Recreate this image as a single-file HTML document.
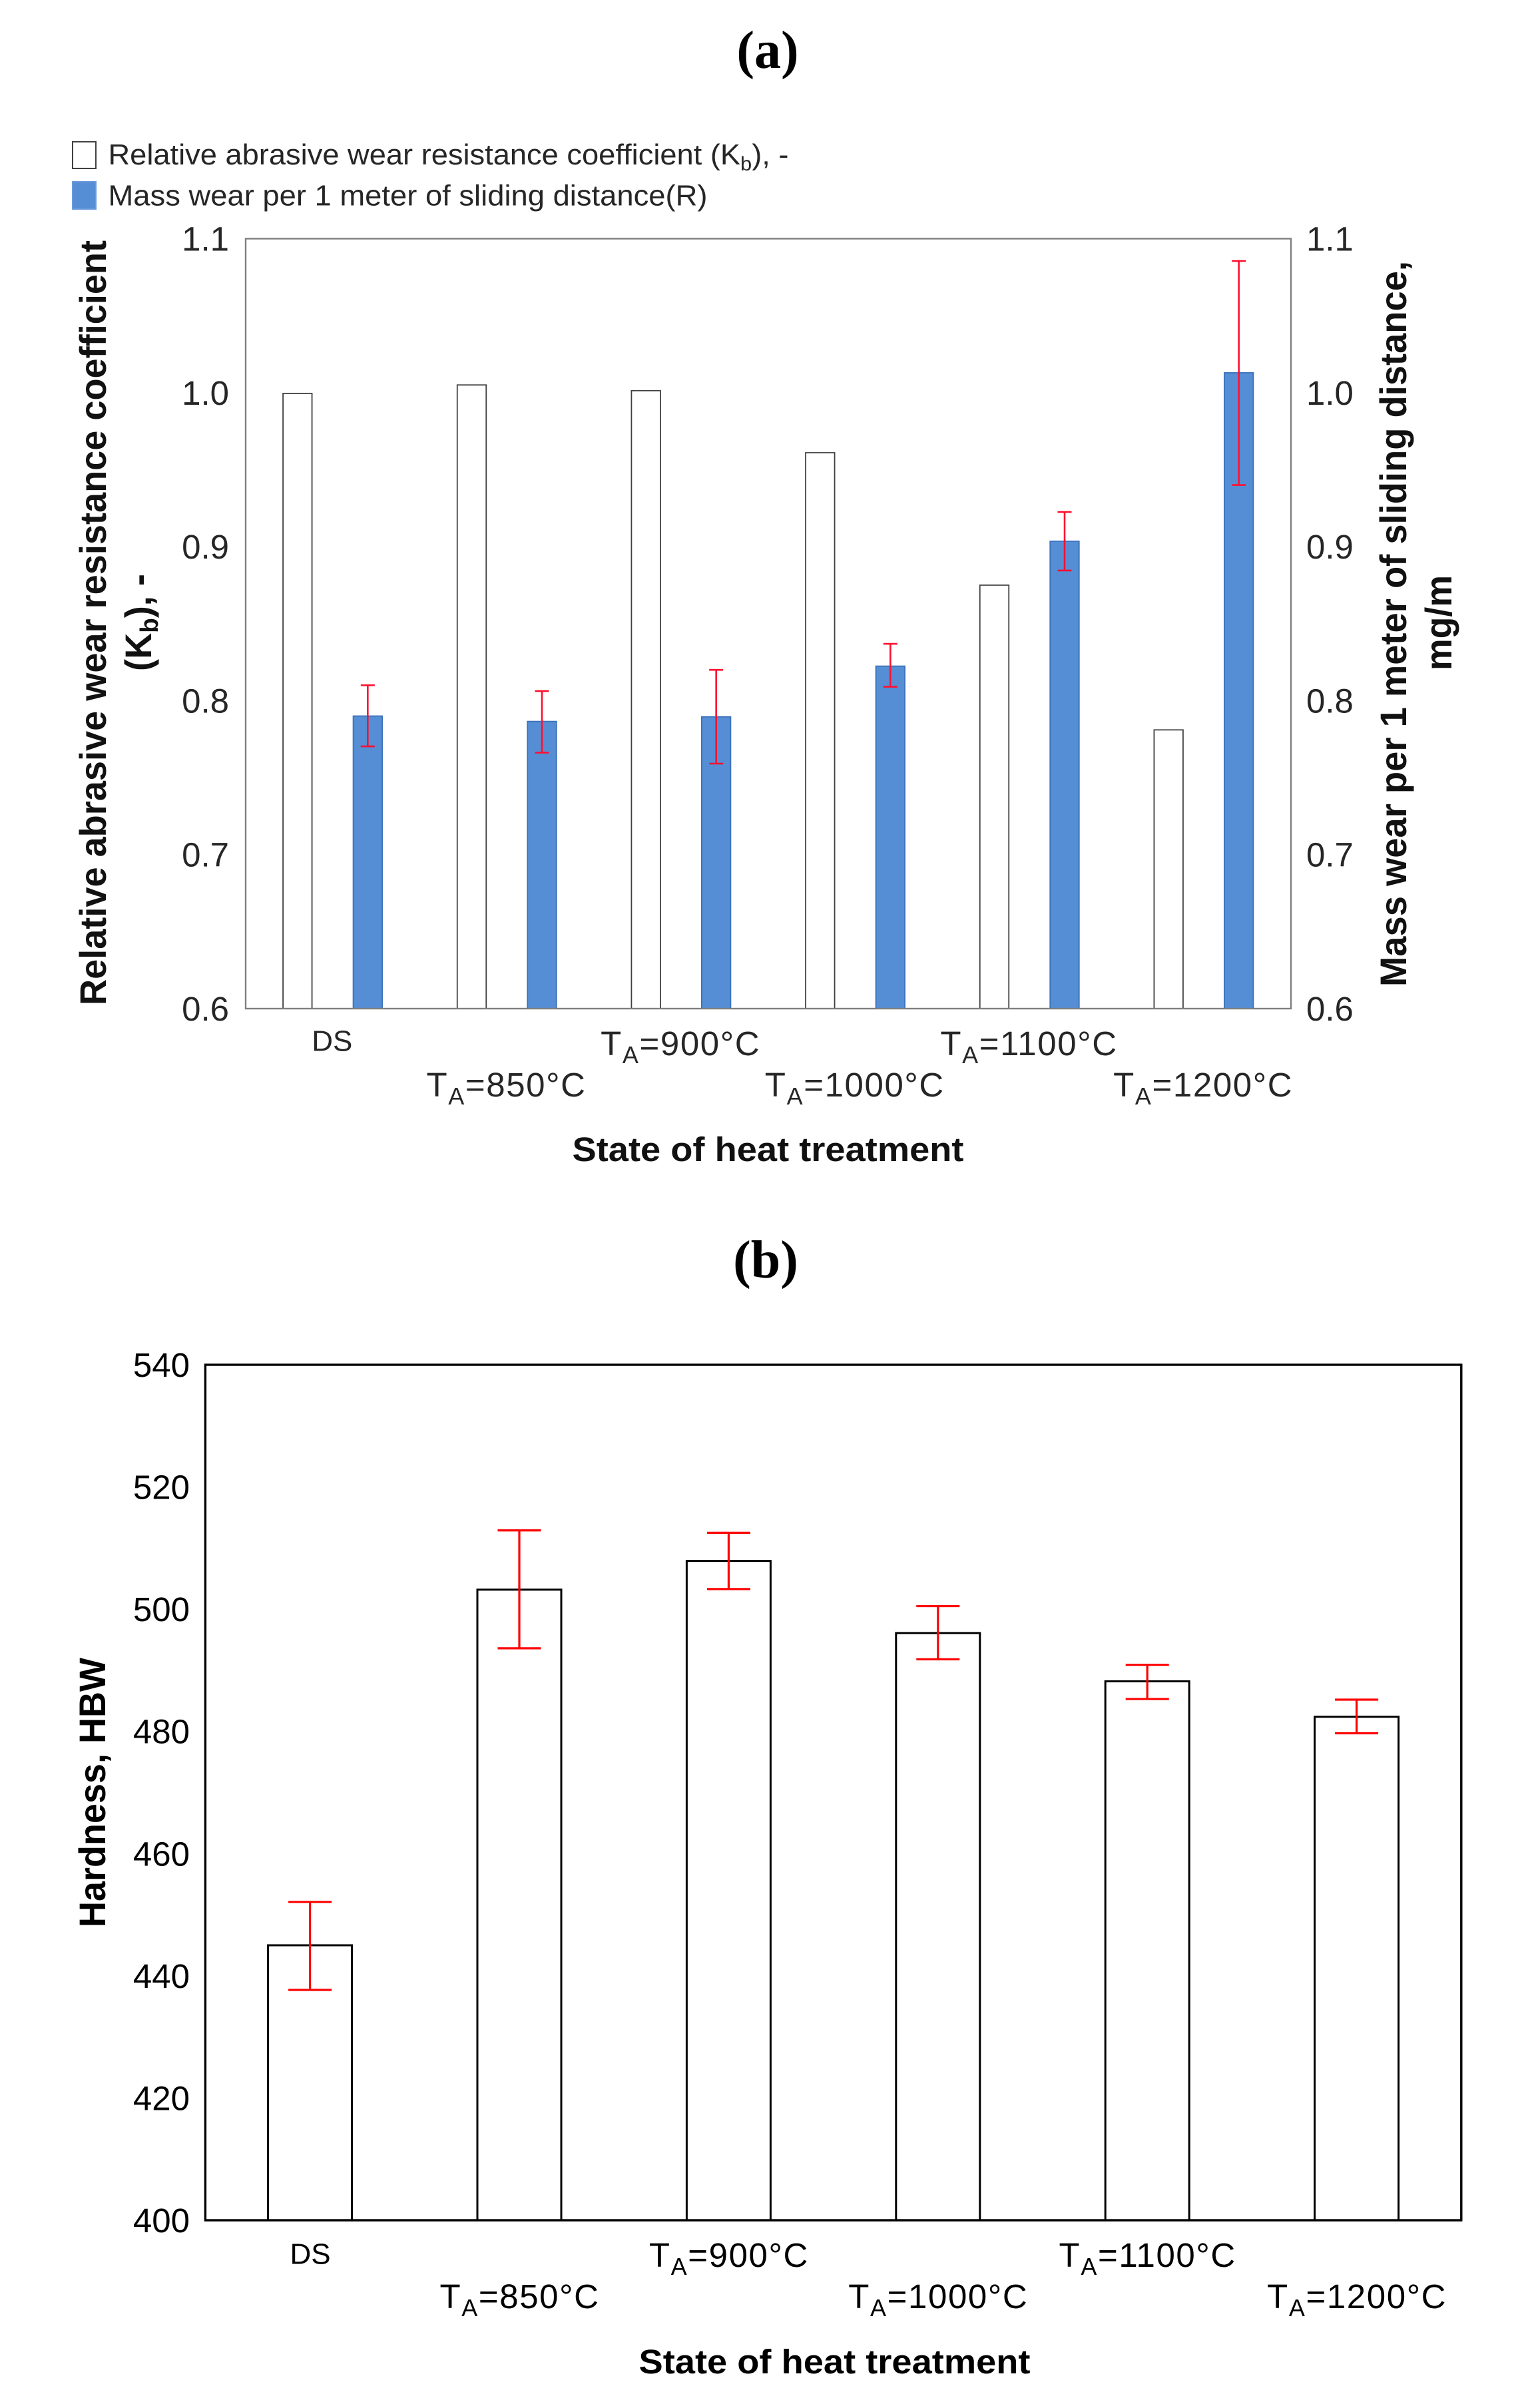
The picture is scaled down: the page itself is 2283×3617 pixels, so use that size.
<!DOCTYPE html>
<html lang="en">
<head>
<meta charset="utf-8">
<title>Wear resistance and hardness vs. heat treatment</title>
<style>
html,body{margin:0;padding:0;background:#fff;}
svg{display:block;}
text{font-family:"Liberation Sans",Arial,sans-serif;}
.serif{font-family:"Liberation Serif","Times New Roman",serif;font-weight:bold;}
</style>
</head>
<body>
<svg id="figure" xmlns="http://www.w3.org/2000/svg" width="2283" height="3617" viewBox="0 0 2283 3617">
<rect x="0" y="0" width="2283" height="3617" fill="#ffffff"/>
<text class="serif" x="1153" y="102" font-size="80" text-anchor="middle" fill="#000">(a)</text>
<text class="serif" x="1150" y="1919" font-size="80" text-anchor="middle" fill="#000">(b)</text>

<g>
<rect x="109" y="213" width="35" height="40" fill="#fff" stroke="#404040" stroke-width="2"/>
<text x="162.5" y="247" font-size="44" fill="#262626" textLength="1022" lengthAdjust="spacingAndGlyphs">Relative abrasive wear resistance coefficient (K<tspan font-size="30" dy="9">b</tspan><tspan dy="-9">), -</tspan></text>
<rect x="109" y="273" width="35" height="41" fill="#558ed5" stroke="#6a9bdc" stroke-width="2"/>
<text x="162.5" y="308.5" font-size="44" fill="#262626" textLength="900" lengthAdjust="spacingAndGlyphs">Mass wear per 1 meter of sliding distance(R)</text>
</g>

<g id="chart-a"></g>
<g id="chart-b"></g>

<g font-weight="bold" fill="#111">
<text transform="translate(159,1510) rotate(-90)" font-size="56" textLength="1149" lengthAdjust="spacingAndGlyphs">Relative abrasive wear resistance coefficient</text>
<text transform="translate(227,1008) rotate(-90)" font-size="56" textLength="146" lengthAdjust="spacingAndGlyphs">(K<tspan font-size="38" dy="10">b</tspan><tspan dy="-10">), -</tspan></text>
<text transform="translate(2112,1482) rotate(-90)" font-size="56" textLength="1090" lengthAdjust="spacingAndGlyphs">Mass wear per 1 meter of sliding distance,</text>
<text transform="translate(2180,1007) rotate(-90)" font-size="56" textLength="143" lengthAdjust="spacingAndGlyphs">mg/m</text>
<text x="859.5" y="1744" font-size="51" textLength="588" lengthAdjust="spacingAndGlyphs">State of heat treatment</text>
</g>
<g font-weight="bold" fill="#000">
<text transform="translate(158,2895) rotate(-90)" font-size="56" textLength="405" lengthAdjust="spacingAndGlyphs">Hardness, HBW</text>
<text x="959.5" y="3565" font-size="51" textLength="588" lengthAdjust="spacingAndGlyphs">State of heat treatment</text>
</g>
</svg>

<script>
// ---- Shared categories ----
const categories = ['DS', 'TA=850°C', 'TA=900°C', 'TA=1000°C', 'TA=1100°C', 'TA=1200°C'];

// ---- Chart (a) data ----
const wearTicks = ['0.6', '0.7', '0.8', '0.9', '1.0', '1.1'];
const kbValues = [0.9995, 1.005, 1.0013, 0.961, 0.875, 0.781];
const massValues = [0.790, 0.7865, 0.7895, 0.8224, 0.9035, 1.0129];
const massUpper = [0.8100, 0.8062, 0.8200, 0.8369, 0.9225, 1.0855];
const massLower = [0.7703, 0.7662, 0.7591, 0.8090, 0.8845, 0.9400];

// ---- Chart (b) data ----
const hardnessTicks = ['400', '420', '440', '460', '480', '500', '520', '540'];
const hardnessValues = [445.0, 503.2, 507.9, 496.1, 488.2, 482.4];
const hardnessUpper = [452.1, 512.9, 512.5, 500.5, 490.9, 485.2];
const hardnessLower = [437.7, 493.6, 503.3, 491.8, 485.3, 479.7];

const NS = 'http://www.w3.org/2000/svg';
function make(parent, tag, attrs, content) {
  const el = document.createElementNS(NS, tag);
  for (const k in attrs) el.setAttribute(k, attrs[k]);
  if (content !== undefined) el.textContent = content;
  parent.appendChild(el);
  return el;
}

// Category label with optional subscript "A" in "TA=..."
function drawCategoryLabel(parent, label, cx, baseline, dsBaseline, fill) {
  if (label.indexOf('TA') !== 0) {
    return make(parent, 'text', {x: cx, y: dsBaseline, 'font-size': 44, 'text-anchor': 'middle', fill: fill}, label);
  }
  const t = make(parent, 'text', {x: cx, y: baseline, 'font-size': 51, 'text-anchor': 'middle', fill: fill, 'letter-spacing': 1.6});
  make(t, 'tspan', {}, 'T');
  make(t, 'tspan', {'font-size': 36, dy: 12}, 'A');
  make(t, 'tspan', {dy: -12}, label.slice(2));
  return t;
}

function errorBar(parent, x, yUp, yLow, cap, width, color) {
  make(parent, 'line', {x1: x, x2: x, y1: yUp, y2: yLow, stroke: color, 'stroke-width': width});
  make(parent, 'line', {x1: x - cap / 2, x2: x + cap / 2, y1: yUp, y2: yUp, stroke: color, 'stroke-width': width});
  make(parent, 'line', {x1: x - cap / 2, x2: x + cap / 2, y1: yLow, y2: yLow, stroke: color, 'stroke-width': width});
}

// ---- Draw chart (a) ----
(function () {
  const root = document.getElementById('chart-a');
  const L = 369, R = 1939, T = 358.5, B = 1515;
  const vMin = 0.6, vMax = 1.1;
  const y = v => B - (v - vMin) / (vMax - vMin) * (B - T);
  const band = (R - L) / categories.length;
  const xc = i => L + band * (i + 0.5);
  const barW = 43.5, offL = 53, offR = 52.5;
  const ink = '#262626';

  make(root, 'rect', {x: L, y: T, width: R - L, height: B - T, fill: '#fff'});

  kbValues.forEach((v, i) => {
    const bar = make(root, 'rect', {x: xc(i) - offL - barW / 2, y: y(v), width: barW, height: B - y(v), fill: '#fff', stroke: '#404040', 'stroke-width': 1.8});
    
    
  });
  massValues.forEach((v, i) => {
    const bar = make(root, 'rect', {x: xc(i) + offR - barW / 2, y: y(v), width: barW, height: B - y(v), fill: '#558ed5', stroke: '#3b71bb', 'stroke-width': 1.8});
    
    
  });
  massValues.forEach((v, i) => {
    const g = make(root, 'g', {});
    
    
    errorBar(g, xc(i) + offR, y(massUpper[i]), y(massLower[i]), 21, 2.6, '#ff1030');
  });

  const frame = make(root, 'rect', {x: L, y: T, width: R - L, height: B - T, fill: 'none', stroke: '#7f7f7f', 'stroke-width': 2.4});
  
  

  wearTicks.forEach(label => {
    const v = parseFloat(label);
    const left = make(root, 'text', {x: 344, y: y(v) + 18, 'font-size': 51, 'text-anchor': 'end', fill: ink}, label);
    
    
    const right = make(root, 'text', {x: 1962, y: y(v) + 18, 'font-size': 51, fill: ink}, label);
    
    
  });

  categories.forEach((label, i) => {
    const t = drawCategoryLabel(root, label, xc(i) - 1, i % 2 ? 1647 : 1585, 1578.5, ink);
    
    
  });
})();

// ---- Draw chart (b) ----
(function () {
  const root = document.getElementById('chart-b');
  const L = 308.4, R = 2194.8, T = 2050, B = 3335;
  const vMin = 400, vMax = 540;
  const y = v => B - (v - vMin) / (vMax - vMin) * (B - T);
  const band = (R - L) / categories.length;
  const xc = i => L + band * (i + 0.5);
  const barW = 126;

  make(root, 'rect', {x: L, y: T, width: R - L, height: B - T, fill: '#fff'});

  hardnessValues.forEach((v, i) => {
    const bar = make(root, 'rect', {x: xc(i) - barW / 2, y: y(v), width: barW, height: B - y(v), fill: '#fff', stroke: '#000', 'stroke-width': 3});
    
    
  });
  hardnessValues.forEach((v, i) => {
    const g = make(root, 'g', {});
    
    
    errorBar(g, xc(i), y(hardnessUpper[i]), y(hardnessLower[i]), 65, 3.2, '#ff0000');
  });

  const frame = make(root, 'rect', {x: L, y: T, width: R - L, height: B - T, fill: 'none', stroke: '#000', 'stroke-width': 3.4});
  
  

  hardnessTicks.forEach(label => {
    const v = parseFloat(label);
    const t = make(root, 'text', {x: 285, y: y(v) + 18, 'font-size': 51, 'text-anchor': 'end', fill: '#000'}, label);
    
    
  });

  categories.forEach((label, i) => {
    const t = drawCategoryLabel(root, label, xc(i) + 0.5, i % 2 ? 3467 : 3405, 3400.5, '#000');
    
    
  });
})();
</script>
</body>
</html>
